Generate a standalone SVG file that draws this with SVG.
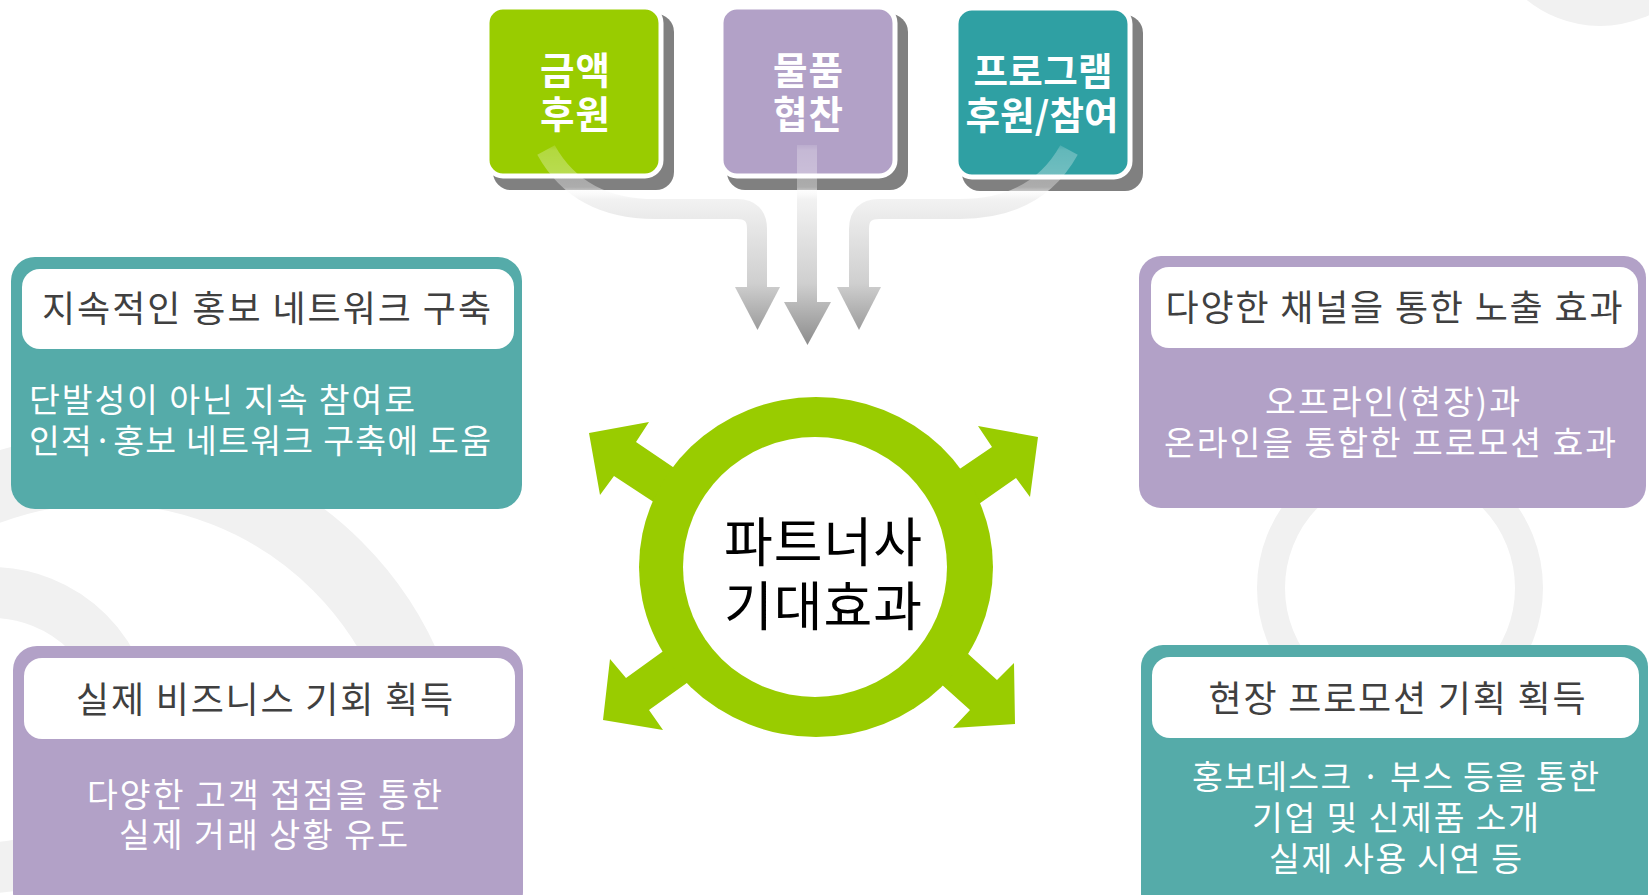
<svg xmlns="http://www.w3.org/2000/svg" width="1649" height="895" viewBox="0 0 1649 895">
<style>
  .ring{fill:none;stroke:#f1f1f1}
  .shadow{fill:#808080}
  .tb{stroke:#ffffff;stroke-width:5}
  .f{font-family:"Noto Sans CJK KR","Noto Sans",sans-serif}
  .tt{font-weight:700;font-size:37.5px;fill:#ffffff;text-anchor:middle}
  .teal{fill:#55aba9}
  .purple{fill:#b2a1c7}
  .white{fill:#ffffff}
  .title{font-size:36px;fill:#404040;text-anchor:middle}
  .body{font-size:33.5px;fill:#ffffff}
  .mid{text-anchor:middle}
  .band{fill:none;stroke:url(#gg);stroke-width:20}
  .head{fill:url(#gg)}
  .grn{fill:#99cc00}
  .ctr{font-size:53px;fill:#000000;text-anchor:middle}
</style>
<defs>
  <linearGradient id="gg" gradientUnits="userSpaceOnUse" x1="0" y1="140" x2="0" y2="345">
    <stop offset="0" stop-color="#ffffff" stop-opacity="0"/>
    <stop offset="0.05" stop-color="#ffffff" stop-opacity="0.25"/>
    <stop offset="0.23" stop-color="#ffffff" stop-opacity="0.35"/>
    <stop offset="0.29" stop-color="#f2f2f2" stop-opacity="1"/>
    <stop offset="0.7" stop-color="#cfcfcf" stop-opacity="1"/>
    <stop offset="1" stop-color="#8c8c8c" stop-opacity="1"/>
  </linearGradient>
</defs>

<g id="background">
  <circle class="ring" cx="1600" cy="-90" r="95" stroke-width="42"/>
  <circle class="ring" cx="104" cy="800" r="330.5" stroke-width="69"/>
  <circle class="ring" cx="-9" cy="730" r="137.5" stroke-width="51"/>
  <circle class="ring" cx="1400" cy="588" r="129" stroke-width="28"/>
</g>

<g id="node-money">
  <rect class="shadow" x="493" y="14" width="181" height="176" rx="18"/>
  <rect class="tb" x="487" y="7" width="174" height="169" rx="16" fill="#99cc00"/>
  <text class="f tt"><tspan x="575" y="84" textLength="70" lengthAdjust="spacing">금액</tspan><tspan x="575" y="128" textLength="70" lengthAdjust="spacing">후원</tspan></text>
</g>
<g id="node-goods">
  <rect class="shadow" x="727" y="14" width="181" height="176" rx="18"/>
  <rect class="tb" x="721" y="7" width="174" height="169" rx="16" fill="#b2a1c7"/>
  <text class="f tt"><tspan x="808" y="84" textLength="70" lengthAdjust="spacing">물품</tspan><tspan x="808" y="128" textLength="70" lengthAdjust="spacing">협찬</tspan></text>
</g>
<g id="node-program">
  <rect class="shadow" x="962" y="15" width="181" height="176" rx="18"/>
  <rect class="tb" x="956" y="8" width="174" height="169" rx="16" fill="#2fa0a3"/>
  <text class="f tt"><tspan x="1043" y="85" textLength="139" lengthAdjust="spacing">프로그램</tspan><tspan x="1042" y="129" textLength="153" lengthAdjust="spacing">후원/참여</tspan></text>
</g>

<g id="connectors">
  <path class="band" d="M546 150 C566 186 600 209 655 209 L737 209 Q757 209 757 229 L757 290"/>
  <polygon class="head" points="735,287 780,287 757.5,330"/>
  <path class="band" d="M807 145 L807 305"/>
  <polygon class="head" points="784,302 831,302 807.5,345"/>
  <path class="band" d="M1069 150 C1049 186 1015 209 960 209 L879 209 Q859 209 859 229 L859 290"/>
  <polygon class="head" points="837,287 881,287 859,330"/>
</g>

<g id="node-center">
  <polygon class="grn" points="589,433 649,422 636,442 698,484 678,518 614,476 600,495"/>
  <polygon class="grn" points="1038,437 978,426 992,447 936,485 956,520 1016,478 1030,497"/>
  <polygon class="grn" points="603,720 610,659 626,678 687,634 712,665 649,710 663,730"/>
  <polygon class="grn" points="1015,724 1014,663 997,680 946,634 921,666 970,710 953,728"/>
  <ellipse class="grn" cx="816" cy="567" rx="177" ry="170"/>
  <ellipse class="white" cx="815" cy="567" rx="132" ry="130"/>
  <text class="f ctr"><tspan x="823" y="562" textLength="198" lengthAdjust="spacing">파트너사</tspan><tspan x="823" y="626" textLength="198" lengthAdjust="spacing">기대효과</tspan></text>
</g>

<g id="node-network">
  <rect class="teal" x="11" y="257" width="511" height="252" rx="24"/>
  <rect class="white" x="22" y="269" width="492" height="80" rx="18"/>
  <text class="f title" x="266.5" y="322" textLength="449" lengthAdjust="spacing">지속적인 홍보 네트워크 구축</text>
  <text class="f body"><tspan x="29" y="412" textLength="386" lengthAdjust="spacing">단발성이 아닌 지속 참여로</tspan><tspan x="29" y="453" textLength="462" lengthAdjust="spacing">인적·홍보 네트워크 구축에 도움</tspan></text>
</g>

<g id="node-exposure">
  <rect class="purple" x="1139" y="256" width="507" height="252" rx="22"/>
  <rect class="white" x="1151" y="267" width="487" height="81" rx="18"/>
  <text class="f title" x="1394" y="321" textLength="457" lengthAdjust="spacing">다양한 채널을 통한 노출 효과</text>
  <text class="f body mid"><tspan x="1392.5" y="414" textLength="255" lengthAdjust="spacing">오프라인(현장)과</tspan><tspan x="1390" y="455" textLength="452" lengthAdjust="spacing">온라인을 통합한 프로모션 효과</tspan></text>
</g>

<g id="node-business">
  <rect class="purple" x="13" y="646" width="510" height="270" rx="24"/>
  <rect class="white" x="24" y="658" width="491" height="81" rx="18"/>
  <text class="f title" x="264.5" y="713" textLength="377" lengthAdjust="spacing">실제 비즈니스 기회 획득</text>
  <text class="f body mid"><tspan x="264.5" y="807" textLength="355" lengthAdjust="spacing">다양한 고객 접점을 통한</tspan><tspan x="263.5" y="847" textLength="289" lengthAdjust="spacing">실제 거래 상황 유도</tspan></text>
</g>

<g id="node-promotion">
  <rect class="teal" x="1141" y="645" width="507" height="270" rx="22"/>
  <rect class="white" x="1152" y="657" width="487" height="81" rx="18"/>
  <text class="f title" x="1397" y="712" textLength="377" lengthAdjust="spacing">현장 프로모션 기획 획득</text>
  <text class="f body mid"><tspan x="1395.5" y="789" textLength="407" lengthAdjust="spacing">홍보데스크 · 부스 등을 통한</tspan><tspan x="1395.5" y="830" textLength="287" lengthAdjust="spacing">기업 및 신제품 소개</tspan><tspan x="1395.5" y="871" textLength="253" lengthAdjust="spacing">실제 사용 시연 등</tspan></text>
</g>
</svg>
